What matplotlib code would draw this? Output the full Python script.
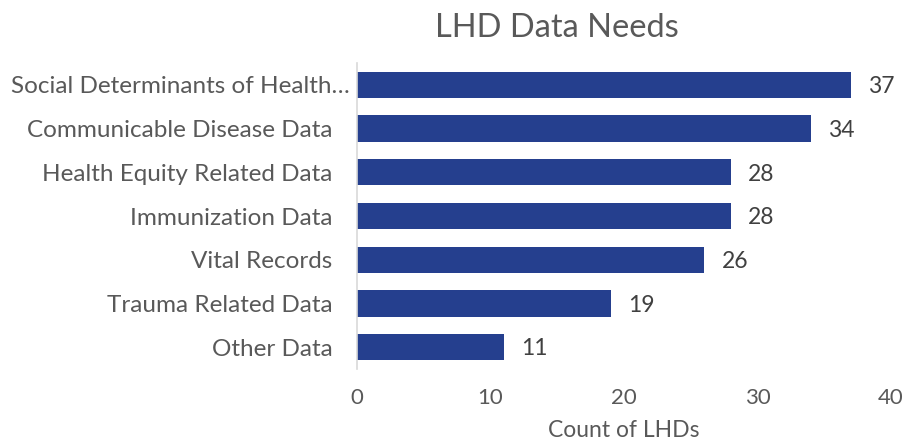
import matplotlib
matplotlib.use("Agg")
import matplotlib.pyplot as plt
import matplotlib.transforms as mtransforms

categories = [
    "Social Determinants of Health\u2026",
    "Communicable Disease Data",
    "Health Equity Related Data",
    "Immunization Data",
    "Vital Records",
    "Trauma Related Data",
    "Other Data",
]
counts = [37, 34, 28, 28, 26, 19, 11]
x_ticks = [0, 10, 20, 30, 40]

plt.rcParams["font.family"] = ["Lato", "DejaVu Sans"]
text_color = "#595959"
bar_color = "#253F8E"

fig = plt.figure(figsize=(9.07, 4.41), dpi=100)
ax = fig.add_axes([357 / 907, 1 - 369 / 441, (891 - 357) / 907, (369 - 63) / 441])

y = list(range(len(categories)))
ax.barh(y, counts, height=0.6, color=bar_color, zorder=2)
ax.set_ylim(len(categories) - 0.5, -0.5)
ax.set_xlim(0, 40)
ax.set_xticks(x_ticks)
ax.set_xticklabels([str(t) for t in x_ticks])
ax.set_yticks(y)
ax.set_yticklabels(categories)

for yi, v in zip(y, counts):
    ax.text(v + 1.3, yi + 0.04, str(v), va="center", ha="left",
            fontsize=16.5, color="#404040")

for side in ["top", "right", "bottom"]:
    ax.spines[side].set_visible(False)
ax.spines["left"].set_color("#d9d9d9")
ax.spines["left"].set_linewidth(1.2)
ax.tick_params(axis="y", length=0, labelsize=17.5, colors=text_color, pad=17.5)
ax.tick_params(axis="x", length=0, labelsize=16, colors=text_color, pad=14)

# the truncated first label sits a little further right
first = ax.get_yticklabels()[0]
first.set_transform(first.get_transform() +
                    mtransforms.ScaledTranslation(17 / 100, 0, fig.dpi_scale_trans))

ax.set_xlabel("Count of LHDs", fontsize=16.5, color=text_color, labelpad=8)
fig.text(557 / 907, 1 - 28 / 441, "LHD Data Needs", ha="center", va="center",
         fontsize=23.5, color=text_color)

fig.savefig("out.png", dpi=100)
